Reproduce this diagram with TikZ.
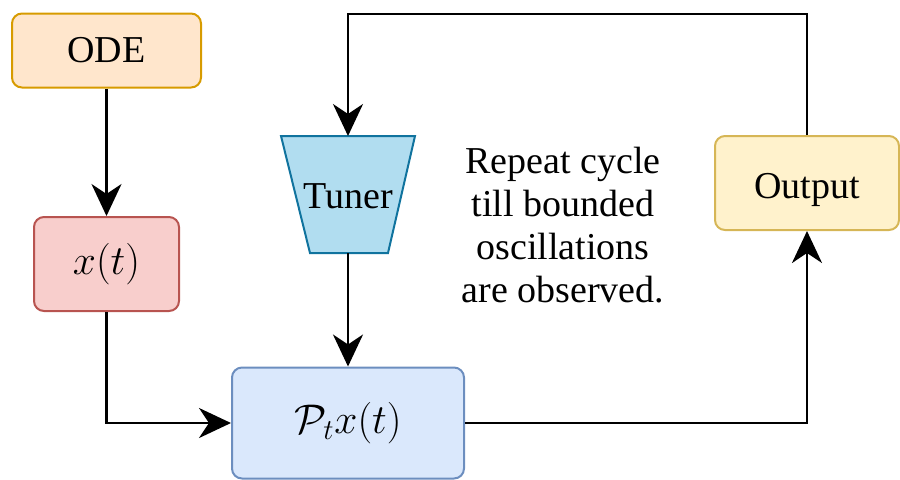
\documentclass[tikz,border=0pt]{standalone}
\usepackage{fontspec}
\setmainfont{Liberation Serif}
\usetikzlibrary{arrows.meta}

\begin{document}
\begin{tikzpicture}[x=0.5pt, y=-0.5pt,
    every node/.style={font=\fontsize{19}{21.5}\selectfont},
    mathtext/.style={font=\fontsize{21.5}{24}\selectfont},
    box/.style={draw, line width=1pt, rounded corners=5pt},
    arr/.style={line width=1.35pt, -{Stealth[length=16pt, width=15pt, inset=5pt]}}]
\definecolor{odefill}{HTML}{FFE6CC}
\definecolor{odeline}{HTML}{D79B00}
\definecolor{xfill}{HTML}{F8CECC}
\definecolor{xline}{HTML}{B85450}
\definecolor{pfill}{HTML}{DAE8FC}
\definecolor{pline}{HTML}{6C8EBF}
\definecolor{tfill}{HTML}{B1DDF0}
\definecolor{tline}{HTML}{10739E}
\definecolor{ofill}{HTML}{FFF2CC}
\definecolor{oline}{HTML}{D6B656}

\useasboundingbox (0, 0) rectangle (900, 479);

\node[box, fill=odefill, draw=odeline, minimum width=94.5pt, minimum height=37pt]
    (ode) at (106.5, 50.5) {ODE};
\node[box, fill=xfill, draw=xline, minimum width=72.5pt, minimum height=47pt,
    mathtext] (xt) at (106.5, 264) {$x(t)$};

\draw[fill=tfill, draw=tline, line width=1pt]
    (281, 136) -- (415, 136) -- (388, 253) -- (310, 253) -- cycle;
\coordinate (tunertop) at (348, 136);
\coordinate (tunerbot) at (348, 253);
\node (tuner) at (348, 196) {Tuner};

\node[box, fill=pfill, draw=pline, minimum width=116pt, minimum height=55.5pt,
    mathtext] (pt) at (348, 423) {$\mathcal{P}_t x(t)$};
\node[box, fill=ofill, draw=oline, minimum width=92pt, minimum height=47pt,
    text height=15pt, text depth=0pt] (out) at (807, 183) {Output};

\node[align=center] (note) at (563, 225)
    {Repeat cycle\\till bounded\\oscillations\\are observed.};

\coordinate (fb) at (580, 14);

\draw[arr] (ode) -- (xt);
\draw[arr] (xt.south) |- (pt.west);
\draw[arr] (tunerbot) -- (pt.north);
\draw[arr] (pt.east) -| (out.south);
\draw[arr] (out.north) |- (fb) -| (tunertop);

\end{tikzpicture}
\end{document}
